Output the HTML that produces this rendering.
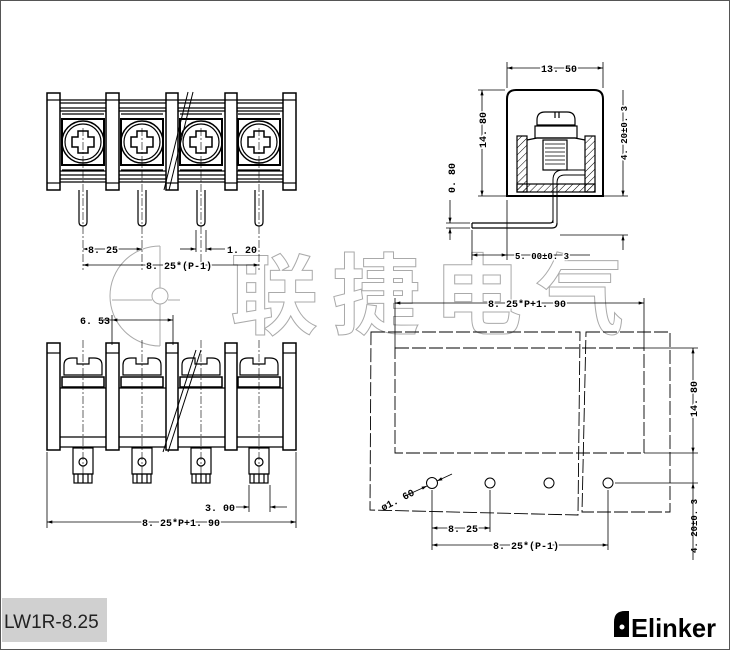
<!DOCTYPE html>
<html><head><meta charset="utf-8"><style>
html,body{margin:0;padding:0;background:#fff}
svg{display:block}
text{font-family:"Liberation Mono",monospace;font-weight:bold;font-size:10px;fill:#000}
</style></head><body>
<svg width="730" height="650" viewBox="0 0 730 650" xmlns="http://www.w3.org/2000/svg">
<defs>
<marker id="a" viewBox="0 0 10 6" refX="10" refY="3" markerWidth="8" markerHeight="4" orient="auto-start-reverse"><path d="M0,0L10,3L0,6z" fill="#000"/></marker>
<pattern id="h" width="5" height="5" patternUnits="userSpaceOnUse" patternTransform="rotate(45)"><line x1="0" y1="0" x2="0" y2="5" stroke="#000" stroke-width="1"/></pattern>
</defs>
<rect x="0.5" y="0.5" width="729" height="649" fill="none" stroke="#555" stroke-width="1"/>

<g fill="none" stroke="#aaa" stroke-width="1">
<path d="M160,246A50,50 0 0 0 160,346"/><path d="M112,300H152M168,300H180"/>
<circle cx="160" cy="296" r="8"/>
<line x1="160" y1="246" x2="160" y2="288"/><line x1="160" y1="304" x2="160" y2="346"/>
<text x="230" y="327" style="font-family:'Noto Sans CJK SC',sans-serif;font-size:88px;fill:none;stroke:#aaa;stroke-width:1;font-weight:bold" letter-spacing="14">联捷电气</text>
</g>

<g fill="none" stroke="#000" stroke-width="1.2">
<g>
<line x1="50" y1="100" x2="295" y2="100"/><line x1="50" y1="103" x2="295" y2="103"/>
<line x1="50" y1="108" x2="295" y2="108"/><line x1="50" y1="111" x2="295" y2="111"/>
<line x1="50" y1="171" x2="295" y2="171"/><line x1="50" y1="175" x2="295" y2="175"/>
<line x1="50" y1="179" x2="295" y2="179"/><line x1="50" y1="182" x2="295" y2="182"/>
<rect x="47" y="93" width="13" height="97" fill="#fff" stroke-width="1.5"/><line x1="47" y1="100" x2="60" y2="100"/><line x1="47" y1="183" x2="60" y2="183"/>
<rect x="106" y="93" width="13" height="97" fill="#fff" stroke-width="1.5"/><line x1="106" y1="100" x2="119" y2="100"/><line x1="106" y1="183" x2="119" y2="183"/>
<rect x="166" y="93" width="12" height="97" fill="#fff" stroke-width="1.5"/><line x1="166" y1="100" x2="178" y2="100"/><line x1="166" y1="183" x2="178" y2="183"/>
<rect x="225" y="93" width="12" height="97" fill="#fff" stroke-width="1.5"/><line x1="225" y1="100" x2="237" y2="100"/><line x1="225" y1="183" x2="237" y2="183"/>
<rect x="283" y="93" width="13" height="97" fill="#fff" stroke-width="1.5"/><line x1="283" y1="100" x2="296" y2="100"/><line x1="283" y1="183" x2="296" y2="183"/>
</g>
<g id="scr">
<rect x="62" y="119" width="42" height="46" stroke-width="2"/>
<line x1="62" y1="114" x2="104" y2="114"/><line x1="62" y1="170" x2="104" y2="170"/>
<circle cx="83" cy="142" r="21" stroke-width="1.5"/><circle cx="83" cy="142" r="18"/>
<path d="M78,131h10v6h6v10h-6v6h-10v-6h-6v-10h6z" stroke-width="1.5"/>
<path d="M79,190v32q0,4 4,4q4,0 4,-4v-32" fill="#fff"/>
<line x1="83" y1="128" x2="83" y2="270" stroke-width="0.6" stroke-dasharray="8,2,2,2"/>
</g>
<use href="#scr" x="59"/><use href="#scr" x="118"/><use href="#scr" x="176"/>
<line x1="188" y1="92" x2="164" y2="190" stroke-width="1"/><line x1="193" y1="92" x2="169" y2="190" stroke-width="1"/>
<g stroke-width="0.8">
<line x1="83" y1="249" x2="142" y2="249" marker-start="url(#a)" marker-end="url(#a)"/>
<line x1="83" y1="265" x2="259" y2="265" marker-start="url(#a)" marker-end="url(#a)"/>
<line x1="196" y1="230" x2="196" y2="252"/><line x1="206" y1="230" x2="206" y2="252"/>
<line x1="180" y1="249" x2="196" y2="249" marker-end="url(#a)"/><line x1="225" y1="249" x2="206" y2="249" marker-end="url(#a)"/>
</g>

<g>
<line x1="60" y1="388" x2="283" y2="388"/><line x1="60" y1="437" x2="283" y2="437"/><line x1="60" y1="447" x2="283" y2="447"/>
</g>
<g id="bs">
<rect x="73" y="448" width="20" height="26"/><circle cx="83" cy="462" r="4"/>
<rect x="74" y="474" width="18" height="9"/><line x1="78" y1="474" x2="78" y2="483"/><line x1="83" y1="474" x2="83" y2="483"/><line x1="88" y1="474" x2="88" y2="483"/>
<path d="M64,375v-10q0,-7 8,-7h5v6h12v-6h5q8,0 8,7v10z"/>
<rect x="62" y="377" width="42" height="10" stroke-width="1.5"/>
<line x1="83" y1="340" x2="83" y2="480" stroke-width="0.6" stroke-dasharray="8,2,2,2"/>
</g>
<use href="#bs" x="59"/><use href="#bs" x="118"/><use href="#bs" x="176"/>
<g>
<rect x="47" y="343" width="13" height="107" fill="#fff" stroke-width="1.5"/><line x1="47" y1="353" x2="60" y2="353"/>
<rect x="106" y="343" width="13" height="107" fill="#fff" stroke-width="1.5"/><line x1="106" y1="353" x2="119" y2="353"/>
<rect x="166" y="343" width="12" height="107" fill="#fff" stroke-width="1.5"/><line x1="166" y1="353" x2="178" y2="353"/>
<rect x="225" y="343" width="12" height="107" fill="#fff" stroke-width="1.5"/><line x1="225" y1="353" x2="237" y2="353"/>
<rect x="283" y="343" width="13" height="107" fill="#fff" stroke-width="1.5"/><line x1="283" y1="353" x2="296" y2="353"/>
</g>
<line x1="196" y1="350" x2="163" y2="452" stroke-width="1"/><line x1="201" y1="350" x2="168" y2="452" stroke-width="1"/>
<g stroke-width="0.8">
<line x1="103" y1="320" x2="112" y2="320"/><line x1="112" y1="320" x2="173" y2="320" marker-start="url(#a)" marker-end="url(#a)"/>
<line x1="112" y1="315" x2="112" y2="345"/><line x1="173" y1="315" x2="173" y2="345"/>
<line x1="249" y1="485" x2="249" y2="512"/><line x1="270" y1="485" x2="270" y2="512"/>
<line x1="228" y1="507" x2="249" y2="507" marker-end="url(#a)"/><line x1="287" y1="507" x2="270" y2="507" marker-end="url(#a)"/>
<line x1="47" y1="452" x2="47" y2="528"/><line x1="296" y1="452" x2="296" y2="528"/>
<line x1="47" y1="522" x2="296" y2="522" marker-start="url(#a)" marker-end="url(#a)"/>
</g>

<path d="M507,196V99q0,-9 9,-9h78q9,0 9,9v97z" stroke-width="2"/>
<path d="M537,120q0,-8 8,-8h22q8,0 8,8v5h-38z"/><line x1="555" y1="112" x2="555" y2="118"/><line x1="559" y1="112" x2="559" y2="118"/>
<rect x="535" y="126" width="42" height="12"/>
<rect x="517" y="136" width="10" height="56" fill="url(#h)"/>
<rect x="585" y="136" width="10" height="56" fill="url(#h)"/>
<rect x="517" y="184" width="78" height="8" fill="url(#h)"/>
<path d="M527,140l10,-2h38l10,2"/>
<rect x="543" y="140" width="24" height="30"/>
<path d="M545,144h20M545,148h20M545,152h20M545,156h20M545,160h20M545,164h20" stroke-width="0.8"/>
<path d="M553,223V180q0,-10 10,-10h22" stroke-width="1"/><path d="M557,223V183q0,-8 8,-8h20" stroke-width="1"/>
<path d="M472,223h78q3,0 3,-3M472,228h80q5,0 5,-5" stroke-width="1.2"/><line x1="472" y1="223" x2="472" y2="228"/>
<g stroke-width="0.8">
<line x1="507" y1="62" x2="507" y2="88"/><line x1="603" y1="62" x2="603" y2="88"/>
<line x1="507" y1="68" x2="603" y2="68" marker-start="url(#a)" marker-end="url(#a)"/>
<line x1="478" y1="90" x2="505" y2="90"/><line x1="478" y1="196" x2="507" y2="196"/>
<line x1="482" y1="90" x2="482" y2="196" marker-start="url(#a)" marker-end="url(#a)"/>
<line x1="603" y1="196" x2="628" y2="196"/><line x1="560" y1="235" x2="628" y2="235"/>
<line x1="623" y1="90" x2="623" y2="196" marker-end="url(#a)"/>
<line x1="623" y1="250" x2="623" y2="235" marker-end="url(#a)"/>
<line x1="446" y1="223" x2="470" y2="223"/><line x1="446" y1="228" x2="470" y2="228"/>
<line x1="450" y1="200" x2="450" y2="223" marker-end="url(#a)"/><line x1="450" y1="240" x2="450" y2="228" marker-end="url(#a)"/>
<line x1="472" y1="230" x2="472" y2="260"/><line x1="507" y1="200" x2="507" y2="260"/>
<line x1="472" y1="255" x2="507" y2="255" marker-start="url(#a)" marker-end="url(#a)"/><line x1="507" y1="255" x2="590" y2="255"/>
</g>

<g stroke-width="0.9" stroke-dasharray="14,3">
<path d="M371,332H580L578,515L370,510z"/>
<path d="M586,332H670V512H582z"/>
<rect x="395" y="348" width="249" height="105"/>
</g>
<g stroke-width="1">
<circle cx="432" cy="483" r="5.5"/><circle cx="490" cy="483" r="5"/><circle cx="549" cy="483" r="5"/><circle cx="608" cy="483" r="5"/>
</g>
<g stroke-width="0.8">
<line x1="395" y1="303" x2="644" y2="303" marker-start="url(#a)" marker-end="url(#a)"/>
<line x1="395" y1="298" x2="395" y2="348"/><line x1="644" y1="298" x2="644" y2="348"/>
<line x1="644" y1="348" x2="698" y2="348"/><line x1="644" y1="453" x2="698" y2="453"/>
<line x1="693" y1="348" x2="693" y2="453" marker-start="url(#a)" marker-end="url(#a)"/>
<line x1="615" y1="483" x2="698" y2="483"/>
<line x1="693" y1="453" x2="693" y2="483"/>
<line x1="693" y1="483" x2="693" y2="515" marker-start="url(#a)"/><line x1="693" y1="515" x2="693" y2="560"/>
<line x1="432" y1="490" x2="432" y2="550"/><line x1="490" y1="490" x2="490" y2="532"/><line x1="608" y1="490" x2="608" y2="550"/>
<line x1="432" y1="528" x2="490" y2="528" marker-start="url(#a)" marker-end="url(#a)"/>
<line x1="432" y1="545" x2="608" y2="545" marker-start="url(#a)" marker-end="url(#a)"/>
<line x1="405" y1="496" x2="427" y2="486" marker-end="url(#a)"/><line x1="452" y1="474" x2="437" y2="481" marker-end="url(#a)"/>
</g>
</g>

<g>
<text x="88" y="253" stroke="#fff" stroke-width="3" paint-order="stroke">8. 25</text>
<text x="146" y="269" stroke="#fff" stroke-width="3" paint-order="stroke">8. 25*(P-1)</text>
<text x="227" y="253" stroke="#fff" stroke-width="3" paint-order="stroke">1. 20</text>
<text x="80" y="324">6. 53</text>
<text x="205" y="511" stroke="#fff" stroke-width="3" paint-order="stroke">3. 00</text>
<text x="142" y="526" stroke="#fff" stroke-width="3" paint-order="stroke">8. 25*P+1. 90</text>
<text x="541" y="72" stroke="#fff" stroke-width="3" paint-order="stroke">13. 50</text>
<text transform="translate(486,148) rotate(-90)" stroke="#fff" stroke-width="3" paint-order="stroke">14. 80</text>
<text transform="translate(627,160) rotate(-90)" style="font-size:9px" stroke="#fff" stroke-width="3" paint-order="stroke">4. 20±0. 3</text>
<text transform="translate(455,193) rotate(-90)">0. 80</text>
<text x="515" y="259" style="font-size:9px" stroke="#fff" stroke-width="3" paint-order="stroke">5. 00±0. 3</text>
<text x="488" y="307" stroke="#fff" stroke-width="3" paint-order="stroke">8. 25*P+1. 90</text>
<text transform="translate(697,417) rotate(-90)" stroke="#fff" stroke-width="3" paint-order="stroke">14. 80</text>
<text transform="translate(697,553) rotate(-90)" style="font-size:9px">4. 20±0. 3</text>
<text x="448" y="532" stroke="#fff" stroke-width="3" paint-order="stroke">8. 25</text>
<text x="493" y="549" stroke="#fff" stroke-width="3" paint-order="stroke">8. 25*(P-1)</text>
<text transform="translate(383,511) rotate(-27)">ø1. 60</text>
</g>

<rect x="2" y="598" width="105" height="44" fill="#d0d0d0"/>
<text x="4" y="628" style="font-family:'Liberation Sans',sans-serif;font-weight:normal;font-size:19px;fill:#222">LW1R-8.25</text>
<g>
<path d="M614,637v-15q0,-11 11,-11h4v26z" fill="#000"/>
<circle cx="622" cy="627" r="2.5" fill="#fff"/>
<text x="631" y="637" style="font-family:'Liberation Sans',sans-serif;font-weight:bold;font-size:26px;fill:#000" textLength="85" lengthAdjust="spacingAndGlyphs">Elinker</text>
</g>
</svg>
</body></html>
